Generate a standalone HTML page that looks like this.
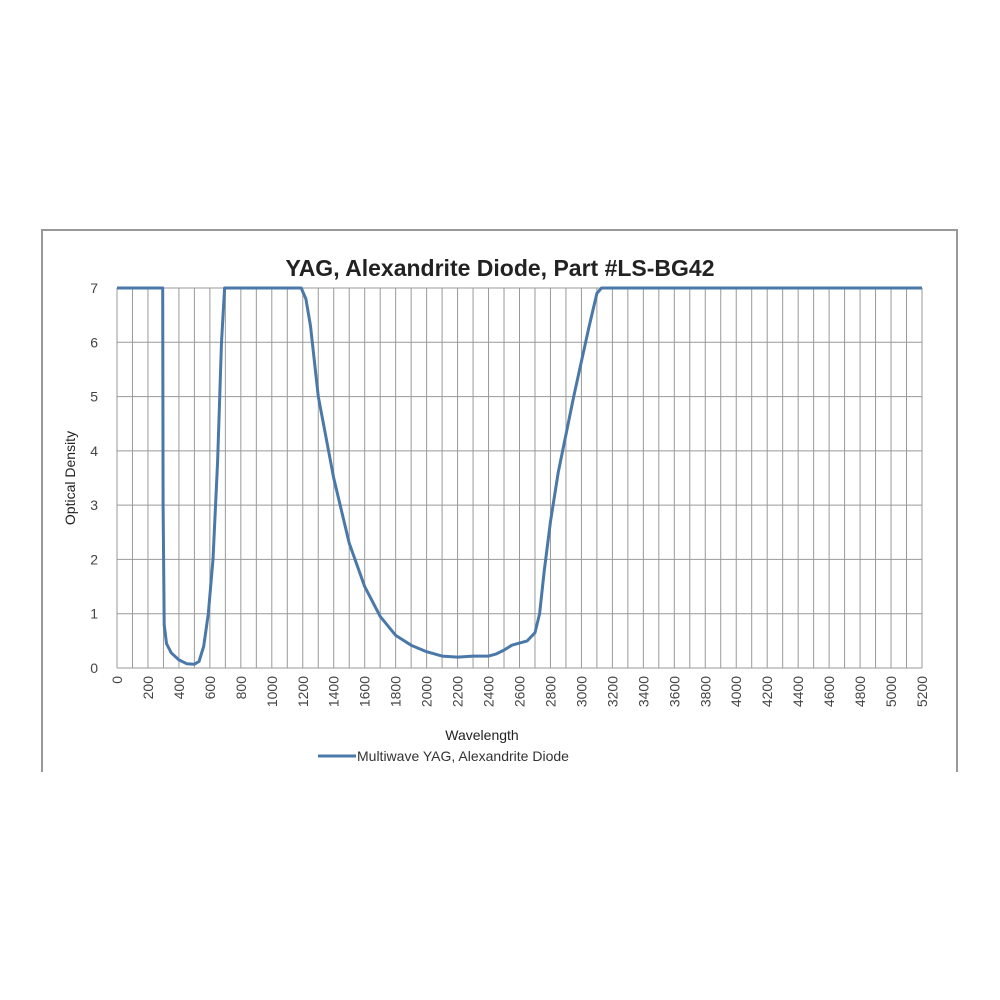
<!DOCTYPE html>
<html><head><meta charset="utf-8"><style>body{margin:0;background:#fff}svg{display:block}</style></head><body>
<svg width="1000" height="1000" viewBox="0 0 1000 1000" font-family="Liberation Sans, sans-serif">
<rect width="1000" height="1000" fill="#fff"/>
<path d="M42 772 V230 H957 V772" fill="none" stroke="#999" stroke-width="2"/>
<text x="500" y="276" text-anchor="middle" font-size="23" font-weight="bold" fill="#222">YAG, Alexandrite Diode, Part #LS-BG42</text>
<g id="grid" stroke="#999" stroke-width="1"></g>
<g id="lab" font-size="14" fill="#444"></g>
<text x="75" y="478" font-size="14" fill="#222" transform="rotate(-90 75 478)" text-anchor="middle">Optical Density</text>
<text x="482" y="740" font-size="14" fill="#222" text-anchor="middle">Wavelength</text>
<line x1="318" y1="756" x2="356" y2="756" stroke="#4a78a8" stroke-width="3"/>
<text x="357" y="761" font-size="14" fill="#333">Multiwave YAG, Alexandrite Diode</text>
<path id="curve" fill="none" stroke="#4a78a8" stroke-width="3" stroke-linejoin="round"/>
</svg>
<script>
const X=w=>117+w*(805/5200),Y=v=>668-v*(380/7);
let g='',l='';
for(let i=0;i<=52;i++){const x=X(i*100);g+=`<line x1="${x}" y1="288" x2="${x}" y2="668"/>`;if(i%2==0)l+=`<text transform="translate(${x+5},${676}) rotate(-90)" text-anchor="end">${i*100}</text>`;}
for(let v=0;v<=7;v++){const y=Y(v);g+=`<line x1="117" y1="${y}" x2="922" y2="${y}"/>`;l+=`<text x="98" y="${y+5}" text-anchor="end">${v}</text>`;}
document.getElementById('grid').innerHTML=g;document.getElementById('lab').innerHTML=l;
const p=[[0,7],[295,7],[298,3],[305,0.8],[320,0.45],[350,0.28],[400,0.15],[450,0.08],[500,0.07],[530,0.12],[560,0.4],[590,1],[620,2],[650,3.8],[675,6],[695,7],[1190,7],[1220,6.8],[1250,6.3],[1300,5],[1400,3.5],[1500,2.3],[1600,1.5],[1700,0.95],[1800,0.6],[1900,0.42],[2000,0.3],[2100,0.22],[2200,0.2],[2300,0.22],[2400,0.22],[2450,0.26],[2500,0.33],[2550,0.42],[2650,0.5],[2700,0.65],[2730,1],[2760,1.8],[2800,2.7],[2850,3.6],[2950,5],[3050,6.3],[3100,6.9],[3130,7],[5200,7]];
document.getElementById('curve').setAttribute('d','M'+p.map(q=>X(q[0]).toFixed(1)+' '+Y(q[1]).toFixed(1)).join(' L'));
</script>
</body></html>
